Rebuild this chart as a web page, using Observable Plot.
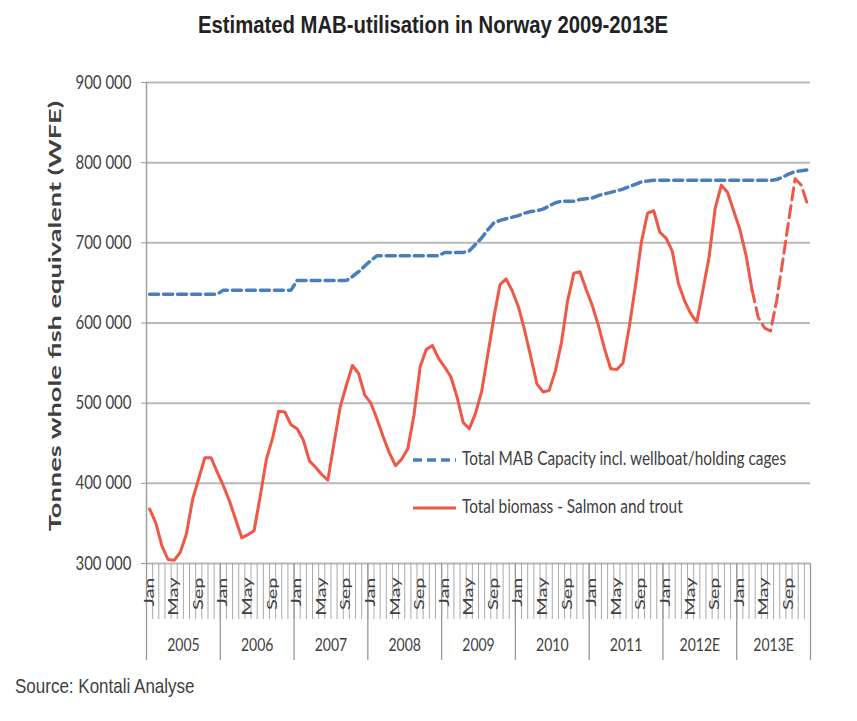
<!DOCTYPE html>
<html><head><meta charset="utf-8">
<script src="https://cdn.jsdelivr.net/npm/d3@7"></script>
<script src="https://cdn.jsdelivr.net/npm/@observablehq/plot@0.6"></script>
<style>
body{margin:0;background:#fff;}
#wrap{position:relative;width:857px;height:721px;overflow:hidden;background:#fff;}
#title{position:absolute;left:0;top:16px;width:866px;text-align:center;font:bold 20.3px "Liberation Sans",Arial,sans-serif;line-height:20.3px;color:#222;}
#title span{display:inline-block;transform:scaleY(1.15);transform-origin:50% 76%;}
#chart{position:absolute;left:0;top:48px;}
#legend{position:absolute;left:0;top:0;pointer-events:none;}
#source{position:absolute;left:15px;top:679px;font:17px "Liberation Sans",Arial,sans-serif;line-height:17px;color:#404040;}
#source span{display:inline-block;transform:scaleY(1.15);transform-origin:0 80%;}
</style></head>
<body><div id="wrap">
<div id="title"><span></span></div>
<div id="chart"></div>
<div id="source"><span></span></div>
</div>
<script>
const chartTitle = "Estimated MAB-utilisation in Norway 2009-2013E";
const sourceText = "Source: Kontali Analyse";
const yTitle = "Tonnes whole fish equivalent (WFE)";
const seriesNames = ["Total MAB Capacity incl. wellboat/holding cages", "Total biomass - Salmon and trout"];
const monthNames = ["Jan","Feb","Mar","Apr","May","Jun","Jul","Aug","Sep","Oct","Nov","Dec"];
const yearLabels = ["2005","2006","2007","2008","2009","2010","2011","2012E","2013E"];
const yTicks = [300000,400000,500000,600000,700000,800000,900000];

// Total MAB capacity, thousand tonnes, monthly Jan 2005 - Dec 2013
const capacity = [
 636,636,636,636,636,636,636,636,636,636,636,636,
 641,641,641,641,641,641,641,641,641,641,641,641,
 653,653,653,653,653,653,653,653,653,658,664,671,
 678,684,684,684,684,684,684,684,684,684,684,684,
 688,688,688,688,690,698,706,716,725,728,730,732,
 734,737,739,740,742,746,750,752,752,752,754,755,
 756,759,761,763,765,767,770,773,776,777,778,778,
 778,778,778,778,778,778,778,778,778,778,778,778,
 778,778,778,778,778,778,779,782,786,789,790,791
];
// Total biomass (salmon and trout), thousand tonnes, monthly Jan 2005 - Dec 2013
const biomass = [
 368,351,322,305,304,314,337,380,406,432,432,414,
 397,378,355,332,336,341,384,430,456,490,489,473,
 468,454,428,420,411,404,450,495,522,547,537,510,
 500,480,458,438,422,430,443,485,545,567,572,556,
 545,533,508,476,468,487,514,560,607,648,655,640,
 620,591,558,524,514,516,540,576,628,662,664,642,
 622,597,568,543,542,550,594,645,701,737,740,713,
 706,690,650,628,612,601,641,682,743,772,763,740,
 717,685,641,607,594,590,628,678,730,780,772,748
];
const estimateStart = 98; // biomass estimate (dashed) from Mar 2013

const blue = "#4a7ebb", red = "#ef5747";

document.querySelector("#title span").textContent = chartTitle;
document.querySelector("#source span").textContent = sourceText;

const capRows = capacity.map((v, i) => ({i, v: v * 1000}));
const bioRows = biomass.map((v, i) => ({i, v: v * 1000}));
const bioSolid = bioRows.filter(d => d.i <= estimateStart);
const bioDashed = bioRows.filter(d => d.i >= estimateStart);
const nMonths = yearLabels.length * 12;
const monthBounds = d3.range(0, nMonths + 1);
const yearBounds = d3.range(0, nMonths + 1, 12);
const monthLabelTicks = d3.range(0, nMonths).filter(i => i % 4 === 0).map(i => i + 0.5);
const yearCenters = yearLabels.map((_, k) => k * 12 + 6);
const fmt = d => d3.format(",")(d).replace(/,/g, " ");

const svg = Plot.plot({
  width: 857, height: 622,
  marginTop: 34, marginBottom: 107, marginLeft: 146, marginRight: 47,
  style: {fontFamily: "Lato, sans-serif", fontSize: "14px", color: "#404040", background: "#fff", overflow: "visible"},
  x: {domain: [0, nMonths], axis: null},
  y: {domain: [300000, 900000], axis: null},
  marks: [
    Plot.gridY(yTicks, {stroke: "#b9b9b9", strokeOpacity: 1, strokeWidth: 2}),
    Plot.axisY(yTicks, {tickSize: 5, tickPadding: 10, tickFormat: fmt, fontSize: 15, stroke: "#999",
      label: yTitle, labelAnchor: "center", labelOffset: 98, labelArrow: "none"}),
    Plot.frame({anchor: "left", stroke: "#a0a0a0", strokeWidth: 1.5}),
    Plot.axisX(monthBounds, {tickSize: 56, tickFormat: () => "", stroke: "#aaa", label: null}),
    Plot.axisX(yearBounds, {tickSize: 97, tickFormat: () => "", stroke: "#999", strokeWidth: 1.3, label: null}),
    Plot.axisX(monthLabelTicks, {tickSize: 0, tickPadding: 14, tickRotate: -90,
      tickFormat: d => monthNames[Math.floor(d) % 12], fontSize: 12.5, label: null}),
    Plot.axisX(yearCenters, {tickSize: 0, tickPadding: 75,
      tickFormat: d => yearLabels[Math.floor(d / 12)], fontSize: 14, label: null}),
    Plot.lineY(capRows, {x: d => d.i + 0.5, y: "v", stroke: blue, strokeWidth: 3.5, strokeDasharray: "9,5"}),
    Plot.lineY(bioSolid, {x: d => d.i + 0.5, y: "v", stroke: red, strokeWidth: 3}),
    Plot.lineY(bioDashed, {x: d => d.i + 0.5, y: "v", stroke: red, strokeWidth: 3, strokeDasharray: "12,6"})
  ]
});
document.getElementById("chart").appendChild(svg);

// post-process text: emulate the vertically stretched original
d3.select(svg).selectAll("text").each(function() {
  const el = this;
  const t = el.getAttribute("transform") || "";
  const parentLabel = el.parentNode.getAttribute("aria-label") || "";
  if (parentLabel === "y-axis label") {
    el.setAttribute("font-weight", "bold");
    el.setAttribute("font-size", "17");
    el.setAttribute("transform", t + " translate(7,0) scale(1.6,1)");
  } else if (t.includes("rotate")) {
    el.setAttribute("transform", t + " scale(1.6,1)");
  } else {
    el.setAttribute("transform", t + " scale(1,1.25)");
  }
});

// legend
const lg = d3.select("#wrap").append("svg").attr("id", "legend").attr("width", 857).attr("height", 721);
const rows = [
  {name: seriesNames[0], color: blue, dash: "9,5", y: 460},
  {name: seriesNames[1], color: red, dash: null, y: 508}
];
rows.forEach(r => {
  lg.append("line").attr("x1", 413).attr("x2", 456).attr("y1", r.y).attr("y2", r.y)
    .attr("stroke", r.color).attr("stroke-width", r.dash ? 3.5 : 3).attr("stroke-dasharray", r.dash);
  lg.append("text").attr("x", 0).attr("y", 0)
    .attr("transform", `translate(462,${r.y + 5}) scale(1,1.2)`)
    .attr("font-family", "Lato, sans-serif").attr("font-size", 15.4).attr("fill", "#404040")
    .text(r.name);
});
</script>
</body></html>
